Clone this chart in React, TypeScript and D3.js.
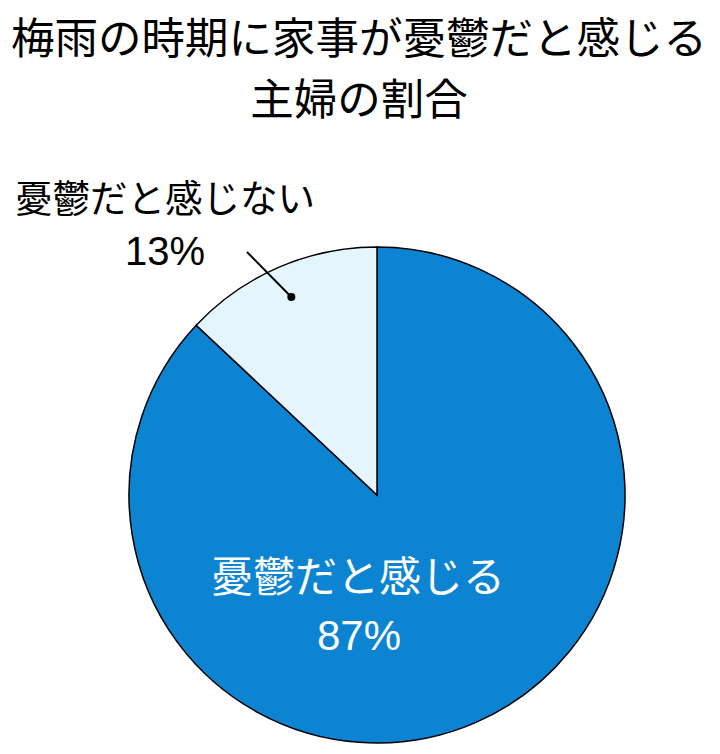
import React from 'react';
import * as d3 from 'd3';

// Chart data
const titleLines = ['梅雨の時期に家事が憂鬱だと感じる', '主婦の割合'];
const categories = ['憂鬱だと感じる', '憂鬱だと感じない'];
const values = [87, 13];
const colors = ['#0c84d2', '#e5f5fd'];

const W = 720;
const H = 754;
const cx = 377;
const cy = 495;
const R = 248;
const FONT = '"Liberation Sans", Arial, "Noto Sans CJK JP", sans-serif';

export default function App() {
  const pie = d3.pie<number>().sort(null).value(d => d).startAngle(0).endAngle(2 * Math.PI);
  const slices = pie(values);
  const arc = d3.arc<d3.PieArcDatum<number>>().innerRadius(0).outerRadius(R);

  // dot for the small slice label, placed on its mid-angle
  const small = slices[1];
  const mid = (small.startAngle + small.endAngle) / 2;
  const dotR = R * 0.87;
  const dot: [number, number] = [Math.sin(mid) * dotR, -Math.cos(mid) * dotR];

  return (
    <div style={{ position: 'absolute', left: 0, top: 0 }}>
      <svg width={W} height={H} style={{ display: 'block', background: '#fff' }}>
        {titleLines.map((t, i) => (
          <text key={i} x={359} y={54 + i * 61} textAnchor="middle" fontSize={43.5}
            fontFamily={FONT} fill="#000">{t}</text>
        ))}
        <g transform={`translate(${cx},${cy})`}>
          {slices.map((s, i) => (
            <path key={i} d={arc(s) || ''} fill={colors[i]} stroke="#000" strokeWidth={1.5} />
          ))}
          <line x1={dot[0]} y1={dot[1]} x2={247 - cx} y2={252 - cy} stroke="#000" strokeWidth={2} />
          <circle cx={dot[0]} cy={dot[1]} r={4} fill="#000" />
        </g>
        {/* inside label */}
        <text x={358} y={592} textAnchor="middle" fontSize={42} fontFamily={FONT} fill="#fff">
          {categories[0]}
        </text>
        <text x={359} y={650} textAnchor="middle" fontSize={42} fontFamily={FONT} fill="#fff">
          {values[0]}%
        </text>
        {/* outside label */}
        <text x={165} y={212} textAnchor="middle" fontSize={37.5} fontFamily={FONT} fill="#000">
          {categories[1]}
        </text>
        <text x={165} y={265} textAnchor="middle" fontSize={40} fontFamily={FONT} fill="#000">
          {values[1]}%
        </text>
      </svg>
    </div>
  );
}
